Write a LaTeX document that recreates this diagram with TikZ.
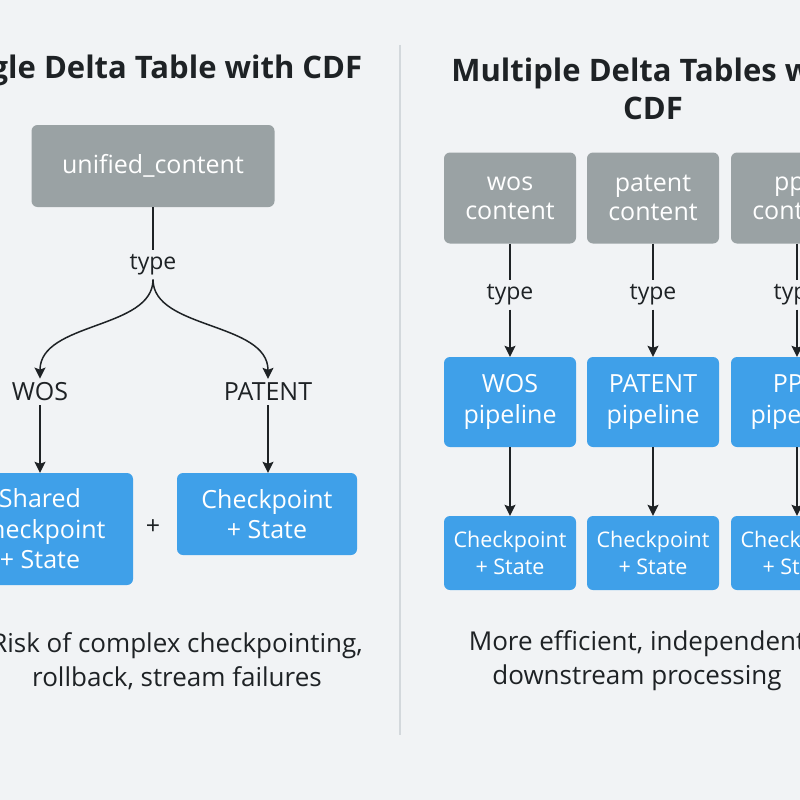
\documentclass[tikz,border=0pt]{standalone}
\usepackage{fontspec}
\setmainfont{Open Sans}
\usetikzlibrary{arrows.meta}
\definecolor{bgcol}{HTML}{F1F3F5}
\definecolor{rulecol}{HTML}{D3D8DC}
\definecolor{graybox}{HTML}{9AA2A4}
\definecolor{bluebox}{HTML}{3FA0E9}
\definecolor{inkcol}{HTML}{1E2225}

\begin{document}
\begin{tikzpicture}[x=1pt, y=-1pt,
    tablebox/.style={fill=graybox, rounded corners=6pt, text=white, align=center,
        font=\fontsize{25}{29}\selectfont, inner sep=0pt},
    pipebox/.style={fill=bluebox, rounded corners=6pt, text=white, align=center,
        font=\fontsize{25}{30.5}\selectfont, inner sep=0pt},
    ckbox/.style={fill=bluebox, rounded corners=6pt, text=white, align=center,
        font=\fontsize{21.5}{27}\selectfont, inner sep=0pt},
    lbl/.style={text=inkcol, font=\fontsize{23}{26}\selectfont, inner sep=4pt},
    conn/.style={draw=inkcol, line width=1.5pt},
    flow/.style={conn, -{Stealth[length=11pt, width=11pt, inset=2pt]}}]
    \clip (0,0) rectangle (800,800);
    \fill[bgcol] (0,0) rectangle (800,800);
    \draw[rulecol, line width=2pt] (400,45) -- (400,735);

    % left: one table
    \node[text=inkcol, font=\bfseries\fontsize{31}{38}\selectfont] (titleL) at (153,70) {Single Delta Table with CDF};
    \node[tablebox, minimum width=243pt, minimum height=82pt] (unified) at (153,166) {unified\_content};
    \node[lbl] (typeL) at (153,265) {type};
    \node[lbl, font=\fontsize{25}{28}\selectfont] (wosL) at (40,392) {WOS};
    \node[lbl, font=\fontsize{25}{28}\selectfont] (patentL) at (268,392) {PATENT};
    \node[pipebox, minimum width=186pt, minimum height=112pt] (sharedck) at (40,529) {Shared\\Checkpoint\\+ State};
    \node[lbl, font=\fontsize{25}{28}\selectfont] (plus) at (153,527) {+};
    \node[pipebox, minimum width=180pt, minimum height=82pt] (ckL) at (267,514) {Checkpoint\\+ State};
    \node[text=inkcol, align=center, font=\fontsize{26}{34}\selectfont] (riskL) at (177,661)
        {Risk of complex checkpointing,\\rollback, stream failures};

    \draw[conn] (unified) -- (typeL);
    \draw[flow] (typeL.south) .. controls +(0,50) and +(0,-57) .. (wosL.north);
    \draw[flow] (typeL.south) .. controls +(0,50) and +(0,-57) .. (patentL.north);
    \draw[flow] (wosL) -- (sharedck.north -| wosL);
    \draw[flow] (patentL) -- (ckL.north -| patentL);

    % right: one table per source
    \node[text=inkcol, align=center, font=\bfseries\fontsize{31}{38}\selectfont] (titleR) at (653,89)
        {Multiple Delta Tables with\\CDF};
    \foreach \x/\src/\SRC [count=\i] in {510/wos/WOS, 653/patent/PATENT, 797/ppu/PPU} {
        \node[tablebox, minimum width=132pt, minimum height=91pt] (content\i) at (\x,198) {\src\\content};
        \node[lbl] (type\i) at (\x,295) {type};
        \node[pipebox, minimum width=132pt, minimum height=90pt] (pipe\i) at (\x,402) {\SRC\\pipeline};
        \node[ckbox, minimum width=132pt, minimum height=74pt] (ck\i) at (\x,553) {Checkpoint\\+ State};
        \draw[conn] (content\i) -- (type\i);
        \draw[flow] (type\i) -- (pipe\i);
        \draw[flow] (pipe\i) -- (ck\i);
    }
    \node[text=inkcol, align=center, font=\fontsize{26}{34}\selectfont] (effR) at (637,661)
        {More efficient, independent\\downstream processing};
\end{tikzpicture}
\end{document}
